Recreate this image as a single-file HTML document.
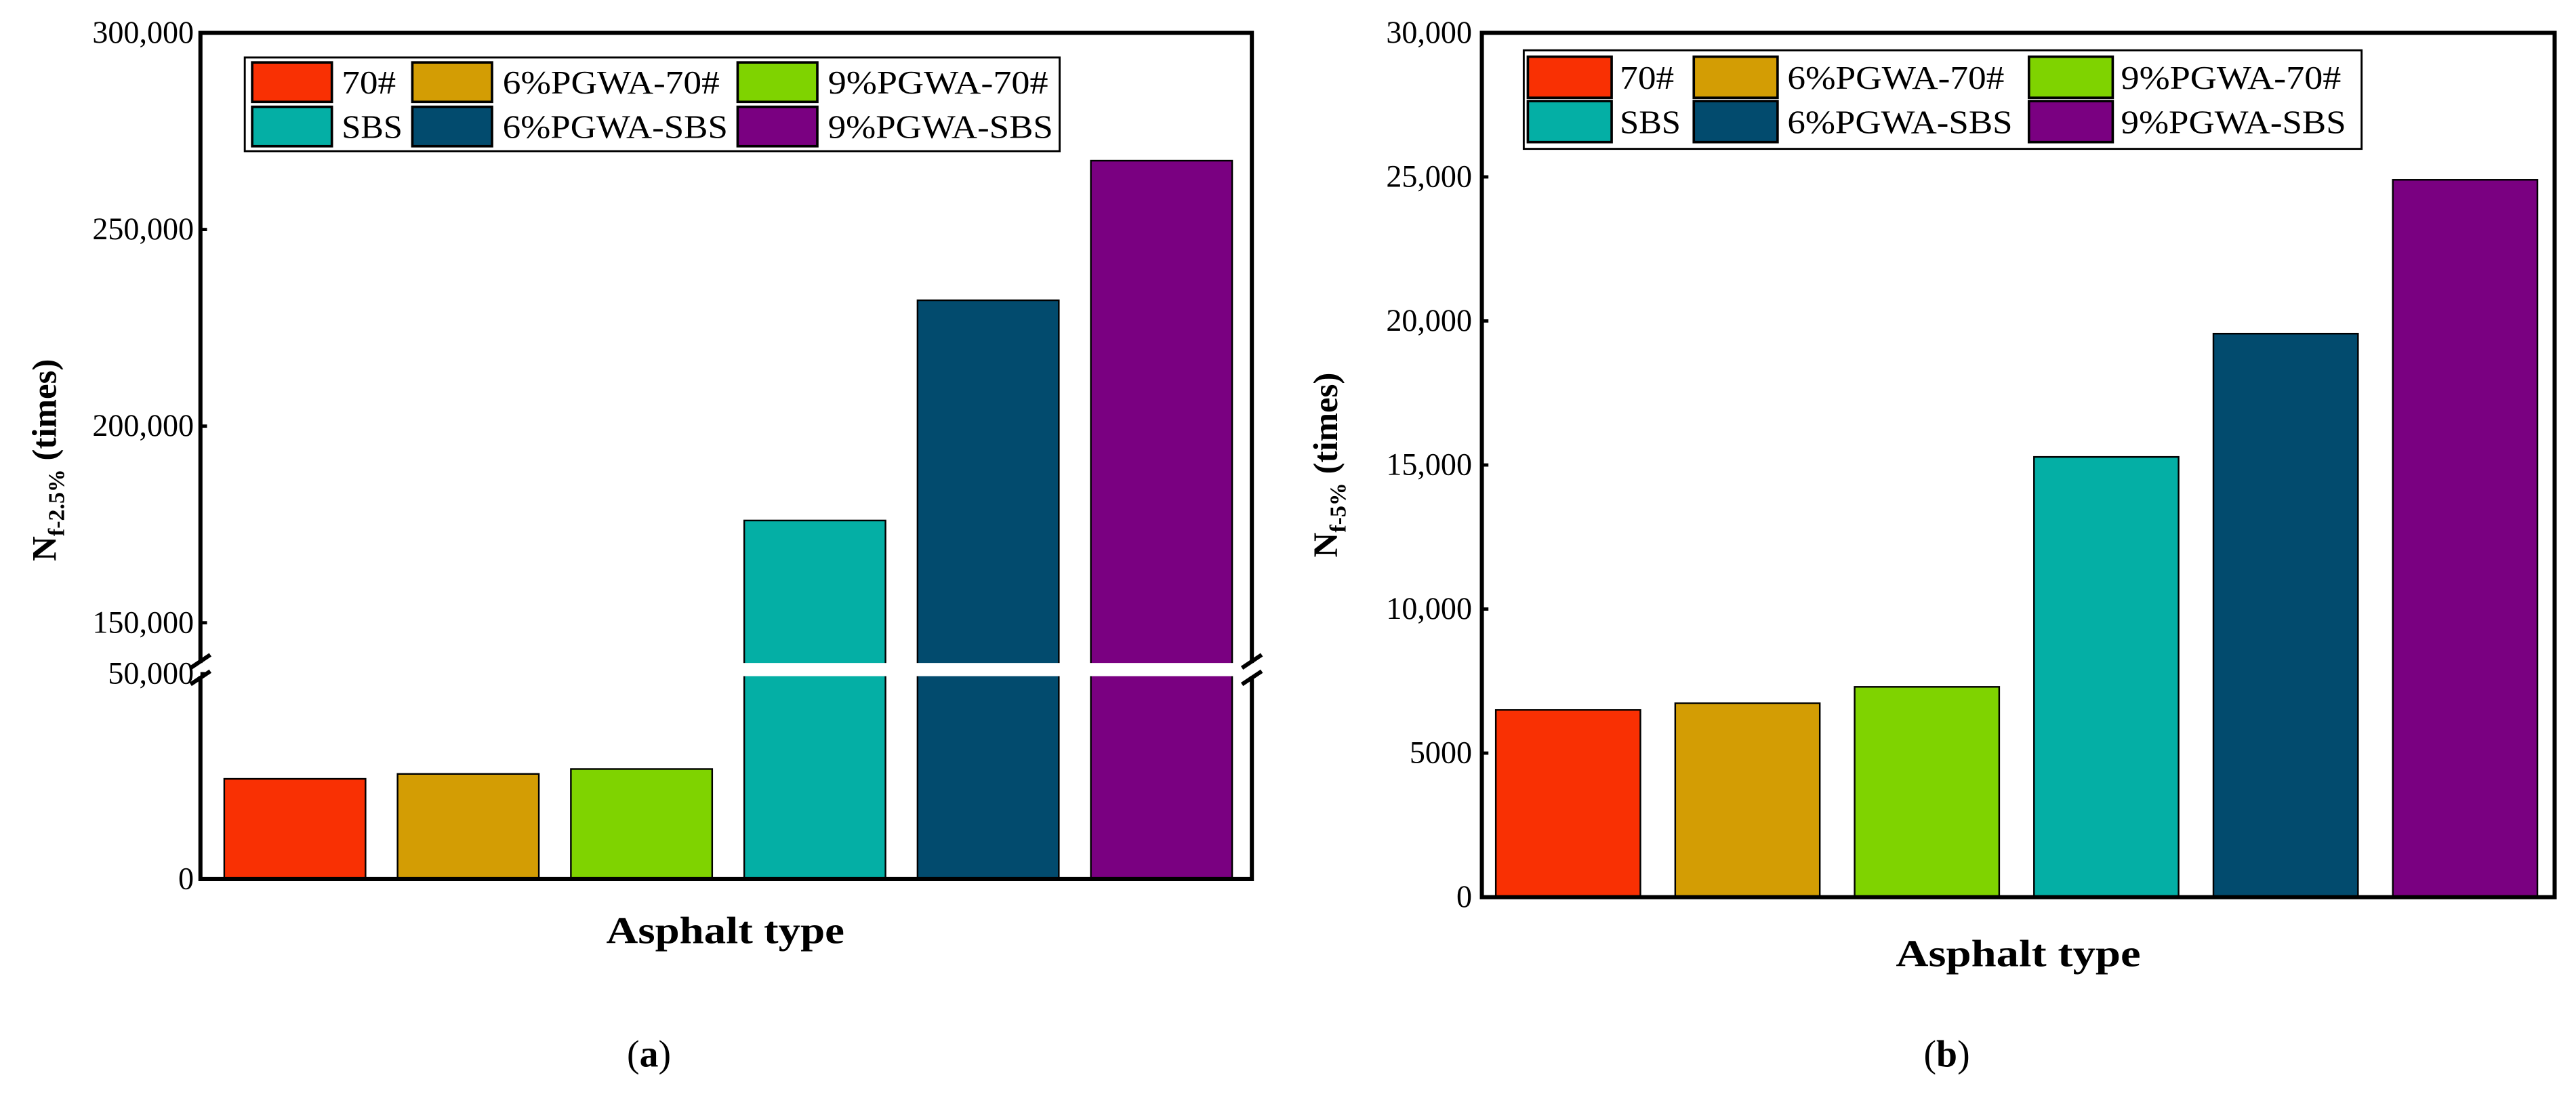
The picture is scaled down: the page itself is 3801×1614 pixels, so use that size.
<!DOCTYPE html>
<html><head><meta charset="utf-8"><style>
html,body{margin:0;padding:0;background:#fff;}
svg{display:block;font-family:"Liberation Serif",serif;}
</style></head><body>
<svg id="fig" width="3801" height="1614" viewBox="0 0 1568 665.8" preserveAspectRatio="none" xmlns="http://www.w3.org/2000/svg"></svg>
<script>
const categories = ["70#","6%PGWA-70#","9%PGWA-70#","SBS","6%PGWA-SBS","9%PGWA-SBS"];
const colors = ["#f93003","#d39d04","#7fd300","#04afa5","#024b6e","#7a0081"];
const valuesA = [24400, 25600, 26800, 176000, 232000, 267500];
const valuesB = [6500, 6730, 7300, 15280, 19560, 24900];
const ticksALow = [0, 50000];
const ticksAHigh = [150000, 200000, 250000, 300000];
const ticksB = [0, 5000, 10000, 15000, 20000, 25000, 30000];
const tickLabelsB = ["0","5000","10,000","15,000","20,000","25,000","30,000"];

const NS = "http://www.w3.org/2000/svg";
const svg = document.getElementById("fig");
function mk(tag, attrs, parent) {
  const e = document.createElementNS(NS, tag);
  for (const k in attrs) e.setAttribute(k, attrs[k]);
  (parent || svg).appendChild(e);
  return e;
}
function fmt(v){ return v===0 ? "0" : v.toLocaleString("en-US"); }

// ---------- Chart A (broken axis) ----------
const A = {l:122, r:762, t:20, b:535};
const breakLow = 403.5, breakHigh = 411.5;
function yA(v){
  if (v <= 50000) return A.b - v/50000*(A.b-410);
  return 379 - (v-150000)/150000*(379-20);
}
const gA = mk("g", {});


const bw = 86, step = 105.5;
categories.forEach((c,i)=>{
  const x = 136.5 + i*step;
  const y = yA(valuesA[i]);
  const r = mk("rect", {x:x, y:y, width:bw, height:A.b-y, fill:colors[i], stroke:"#000", "stroke-width":1}, gA);
  
  
});
const gap = mk("rect", {x:A.l+2, y:breakLow, width:A.r-A.l-4, height:breakHigh-breakLow, fill:"#fff"}, gA);


const frA = mk("path", {d:`M${A.l},${A.t} H${A.r} V${A.b} H${A.l} Z`, fill:"none", stroke:"#000", "stroke-width":2.5}, gA);


[A.l, A.r].forEach(x=>{
  mk("rect",{x:x-2,y:breakLow,width:4,height:breakHigh-breakLow,fill:"#fff"},gA);
  [breakLow-1, breakHigh+1].forEach(yy=>{
    const bm = mk("line", {x1:x-6, y1:yy+4, x2:x+6, y2:yy-4, stroke:"#000", "stroke-width":2.5}, gA);
    
    
  });
});
ticksALow.concat(ticksAHigh).forEach(v=>{
  const y = yA(v);
  mk("line",{x1:A.l,y1:y,x2:A.l+4,y2:y,stroke:"#000","stroke-width":2},gA);
  const t = mk("text",{x:A.l-4,y:y+6,"font-size":19,"text-anchor":"end"},gA);
  t.textContent = fmt(v);
  
  
});
const yta = mk("text",{transform:"translate(34,280) rotate(-90)","font-size":21,"font-weight":"bold","text-anchor":"middle"},gA);
yta.innerHTML = 'N<tspan font-size="14" dy="5">f-2.5%</tspan><tspan dy="-5"> (times)</tspan>';


const xta = mk("text",{x:369,y:574,"font-size":23,"font-weight":"bold",textLength:145,lengthAdjust:"spacingAndGlyphs"},gA);
xta.textContent = "Asphalt type";


const capA = mk("text",{x:395,y:649,"font-size":23,"text-anchor":"middle"},gA);
capA.innerHTML = '(<tspan font-weight="bold">a</tspan>)';



// ---------- Chart B ----------
const B = {l:902, r:1555, t:20, b:546};
function yB(v){ return B.b - v/30000*(B.b-B.t); }
const gB = mk("g", {});


const stepB = 109.2, bwB = 88;
categories.forEach((c,i)=>{
  const x = 910.5 + i*stepB;
  const y = yB(valuesB[i]);
  const r = mk("rect",{x:x,y:y,width:bwB,height:B.b-y,fill:colors[i],stroke:"#000","stroke-width":1},gB);
  
  
});
const frB = mk("rect",{x:B.l,y:B.t,width:B.r-B.l,height:B.b-B.t,fill:"none",stroke:"#000","stroke-width":2.5},gB);


ticksB.forEach((v,i)=>{
  const y = yB(v);
  mk("line",{x1:B.l,y1:y,x2:B.l+4,y2:y,stroke:"#000","stroke-width":2},gB);
  const t = mk("text",{x:B.l-6,y:y+6,"font-size":19,"text-anchor":"end"},gB);
  t.textContent = tickLabelsB[i];
  
  
});
const ytb = mk("text",{transform:"translate(814,283) rotate(-90)","font-size":21,"font-weight":"bold","text-anchor":"middle"},gB);
ytb.innerHTML = 'N<tspan font-size="14" dy="5">f-5%</tspan><tspan dy="-5"> (times)</tspan>';


const xtb = mk("text",{x:1154,y:588,"font-size":23,"font-weight":"bold",textLength:149,lengthAdjust:"spacingAndGlyphs"},gB);
xtb.textContent = "Asphalt type";


const capB = mk("text",{x:1185,y:649,"font-size":23,"text-anchor":"middle"},gB);
capB.innerHTML = '(<tspan font-weight="bold">b</tspan>)';



// ---------- Legends ----------
const legTextW = [33, 132, 134, 37, 137, 137];
function legend(parent, box, sxs, txs, rows, sw, sh){
  const b = mk("rect",{x:box[0],y:box[1],width:box[2],height:box[3],fill:"#fff",stroke:"#000","stroke-width":1.2},parent);
  
  
  categories.forEach((c,i)=>{
    const col = i%3, row = Math.floor(i/3);
    const sy = rows[row];
    const s = mk("rect",{x:sxs[col],y:sy,width:sw,height:sh,fill:colors[i],stroke:"#000","stroke-width":1.5},parent);
    
    
    const t = mk("text",{x:txs[col],y:sy+sh/2+7,"font-size":20,textLength:legTextW[i],lengthAdjust:"spacingAndGlyphs"},parent);
    t.textContent = c;
    
    
  });
}
legend(gA, [149,35,496,57], [153.5,251,449], [208,306,504], [38,65], 48.5, 24);
legend(gB, [927.5,30.6,510,60], [930,1031,1235], [986,1088,1291], [34.5,61.5], 51, 25);
</script>
</body></html>
